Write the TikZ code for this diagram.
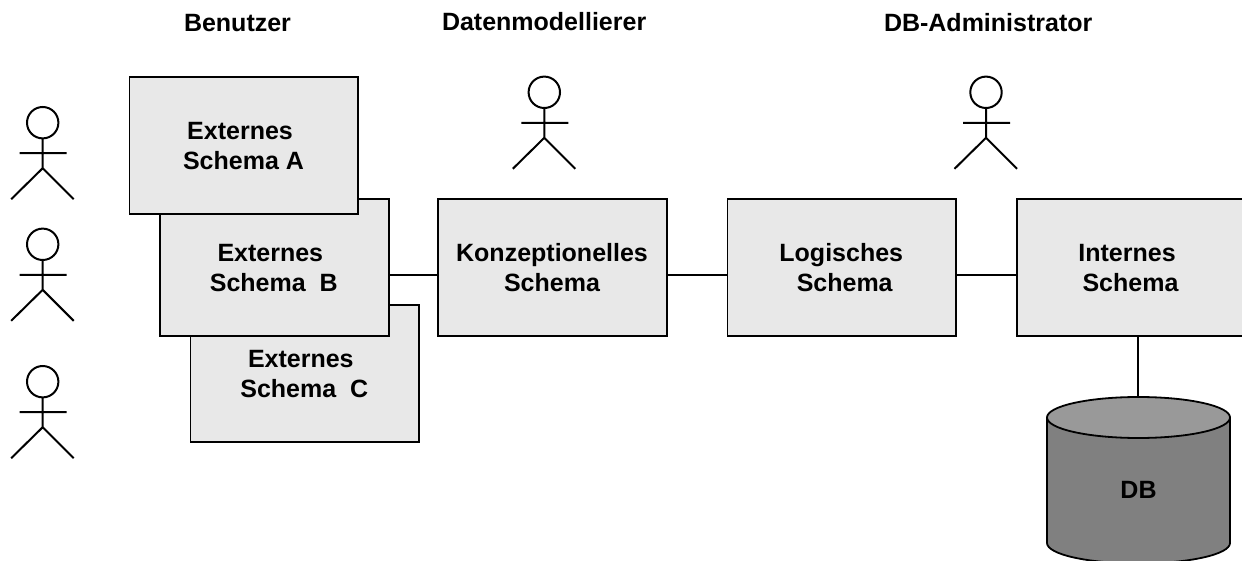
\documentclass[tikz,border=0pt]{standalone}
\usepackage{fontspec}
\setmainfont{Liberation Sans}
\begin{document}
\begin{tikzpicture}[x=1pt,y=-1pt,line width=2pt,
  box/.style={draw=black,fill=boxgray,line width=1.8pt,outer sep=0pt,minimum width=228.8pt,minimum height=136.8pt,inner sep=0pt,anchor=north west},
  lbl/.style={font=\fontsize{25}{30}\selectfont\bfseries,align=center,anchor=base,inner sep=0pt},
  head/.style={font=\fontsize{25}{30}\selectfont\bfseries,anchor=base west,inner sep=0pt},
  conn/.style={draw=black,line width=2pt},
  actor/.pic={
    \draw (0,0) circle[radius=15.7];
    \draw (0,15.7) -- (0,45.5) (-23,30.5) -- (24,30.5) (-31.5,76.5) -- (0,45.5) -- (31,76.5);
  }]
\definecolor{boxgray}{HTML}{E8E8E8}
\definecolor{dbside}{HTML}{808080}
\definecolor{dbtopc}{HTML}{999999}
\useasboundingbox (0,0) rectangle (1242,561);
\clip (0,0) rectangle (1242,561);

\node[head] (hbenutzer) at (183,32) {Benutzer};
\node[head] (hdaten) at (441,30.5) {Datenmodellierer};
\node[head] (hdba) at (883,32) {DB-Administrator};

\pic at (42.7,122.7) {actor};
\pic at (42.7,244.3) {actor};
\pic at (42.7,381.7) {actor};
\pic at (544.3,92.3) {actor};
\pic at (986,92.3) {actor};

\node[box] (c) at (190.5,305.3) {};
\node[box] (b) at (160,198.8) {};
\node[box] (a) at (129.5,77.3) {};
\node[box] (k) at (438,198.8) {};
\node[box] (l) at (727.5,198.8) {};
\node[box] (i) at (1016.7,198.8) {};

\coordinate (dbtop) at (1138,397);
\draw[conn] ([yshift=-7.5pt]b.east) -- ([yshift=-7.5pt]k.west);
\draw[conn] ([yshift=-7.5pt]k.east) -- ([yshift=-7.5pt]l.west);
\draw[conn] ([yshift=-7.5pt]l.east) -- ([yshift=-7.5pt]i.west);
\draw[conn] (i.south -| dbtop) -- (dbtop);

\node[lbl] (ta) at (243.5,170) {Externes\hspace*{6.9pt}\\Schema A};
\node[lbl] (tb) at (273.8,291.7) {Externes\hspace*{6.9pt}\\Schema\hspace{13.9pt}B};
\node[lbl] (tc) at (304.3,397.5) {Externes\hspace*{6.9pt}\\Schema\hspace{13.9pt}C};
\node[lbl] (tk) at (552,291.7) {Konzeptionelles\\Schema};
\node[lbl] (tl) at (844.7,291.7) {Logisches\hspace*{6.9pt}\\Schema};
\node[lbl] (ti) at (1130.5,291.7) {Internes\hspace*{6.9pt}\\Schema};

% database
\draw[fill=dbside,line width=1.8pt] (1047,417.5) -- (1047,543) arc[start angle=180,end angle=0,x radius=91.5,y radius=20.5] -- (1230,417.5) -- cycle;
\draw[fill=dbtopc,line width=1.8pt] (1138.5,417.5) ellipse[x radius=91.5,y radius=20.5];
\node[lbl] (tdb) at (1138.5,498) {DB};
\end{tikzpicture}
\end{document}
